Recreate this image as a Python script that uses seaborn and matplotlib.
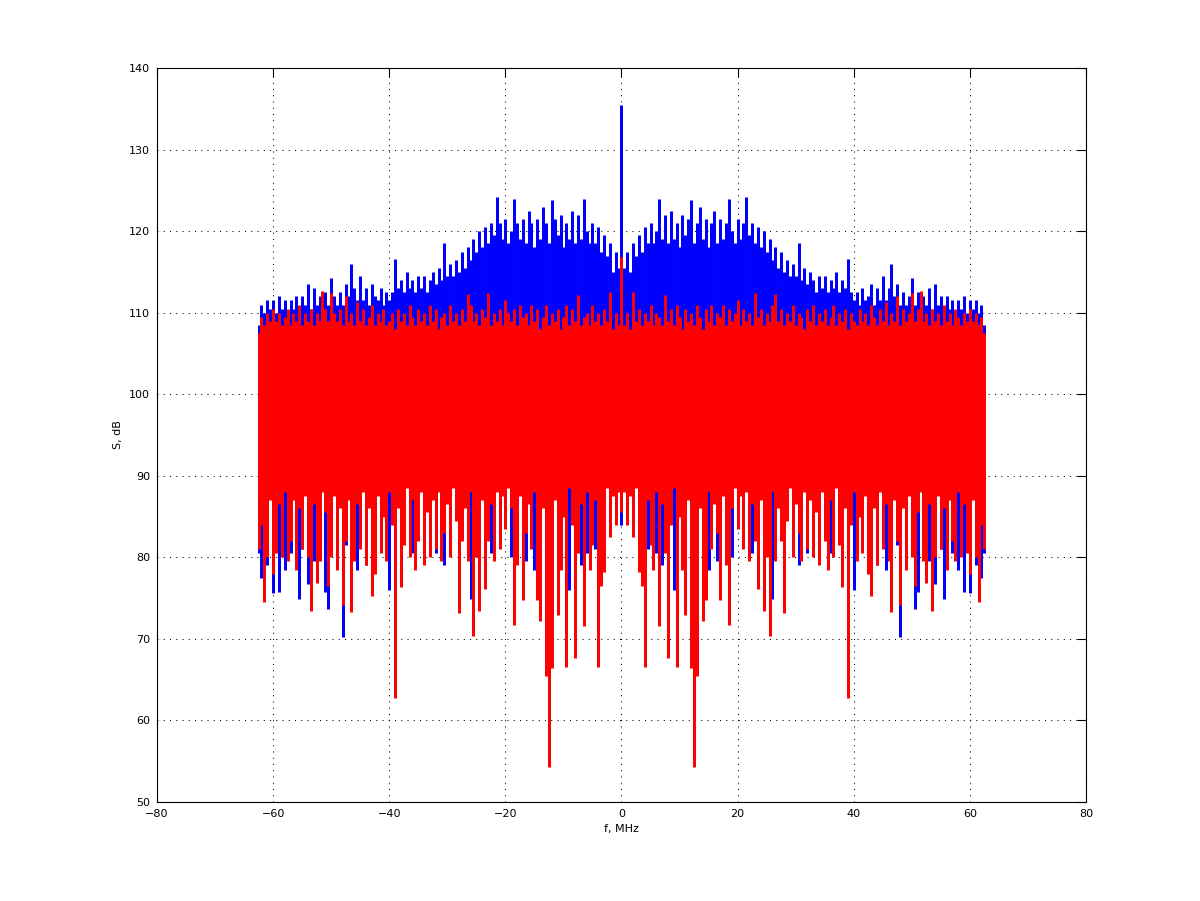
import numpy as np
import matplotlib
matplotlib.use("Agg")
import matplotlib.pyplot as plt
import seaborn as sns

# Spectrum is symmetric about 0 MHz: values read for f = 0, 0.5, ..., 62.5 MHz
bin_step = 0.5

blue_hi = [135.5, 115.5, 117.5, 115.0, 118.5, 117.0, 119.5, 117.5, 120.5, 118.5,
           121.0, 118.5, 120.0, 124.0, 119.0, 122.0, 118.5, 122.5, 119.0, 121.0,
           118.0, 122.0, 119.5, 121.5, 123.8, 118.5, 121.0, 123.0, 119.0, 121.5,
           118.0, 121.0, 122.5, 118.5, 121.5, 119.0, 121.0, 124.0, 120.0, 118.5,
           121.5, 119.0, 121.0, 124.2, 119.5, 121.0, 118.5, 120.5, 118.0, 120.0,
           117.5, 119.0, 116.5, 118.0, 115.5, 117.5, 115.0, 116.5, 114.5, 116.0,
           114.5, 118.5, 114.0, 115.5, 113.5, 115.0, 114.0, 112.5, 114.5, 113.0,
           114.5, 112.5, 114.0, 113.0, 115.0, 112.5, 114.0, 113.0, 116.6, 112.5,
           111.5, 112.5, 111.0, 113.0, 111.5, 112.0, 113.5, 111.0, 113.0, 111.5,
           114.5, 111.5, 113.0, 116.0, 112.0, 113.5, 111.0, 112.5, 111.0, 112.0,
           114.2, 111.0, 112.5, 110.5, 112.0, 111.0, 113.0, 110.5, 113.5, 111.0,
           112.0, 110.5, 112.0, 110.5, 111.5, 110.0, 111.5, 110.5, 112.0, 110.0,
           111.5, 110.5, 111.5, 110.0, 111.0, 108.5]

blue_lo = [84.0, 90.0, 90.0, 90.0, 90.0, 90.0, 90.0, 90.0, 90.0, 81.0,
           90.0, 90.0, 80.5, 90.0, 79.0, 90.0, 90.0, 90.0, 76.0, 90.0,
           90.0, 90.0, 90.0, 90.0, 90.0, 90.0, 90.0, 90.0, 90.0, 90.0,
           78.4, 90.0, 90.0, 79.5, 90.0, 90.0, 90.0, 90.0, 80.0, 90.0,
           90.0, 90.0, 90.0, 90.0, 90.0, 80.5, 90.0, 90.0, 90.0, 90.0,
           90.0, 90.0, 74.9, 90.0, 90.0, 90.0, 90.0, 90.0, 90.0, 90.0,
           90.0, 79.0, 90.0, 90.0, 80.5, 90.0, 90.0, 90.0, 90.0, 90.0,
           90.0, 90.0, 80.5, 90.0, 90.0, 90.0, 90.0, 90.0, 90.0, 90.0,
           76.0, 90.0, 90.0, 81.0, 90.0, 90.0, 90.0, 90.0, 79.0, 90.0,
           90.0, 78.4, 90.0, 90.0, 90.0, 81.5, 70.2, 90.0, 78.8, 90.0,
           90.0, 73.7, 75.8, 90.0, 82.0, 90.0, 79.5, 90.0, 76.7, 90.0,
           81.0, 74.9, 90.0, 90.0, 80.5, 90.0, 78.5, 90.0, 75.8, 82.5,
           75.6, 90.0, 79.0, 82.0, 77.5, 80.5]

red_hi = [116.8, 108.5, 110.0, 108.0, 112.5, 109.0, 110.5, 108.5, 110.0, 109.0,
          111.0, 108.5, 110.0, 109.5, 108.5, 112.2, 109.0, 110.5, 108.5, 111.0,
          109.5, 108.0, 110.5, 109.0, 110.0, 108.5, 111.0, 109.5, 108.0, 110.5,
          109.0, 111.0, 108.5, 110.0, 109.5, 111.0, 108.5, 110.5, 109.0, 110.0,
          111.5, 108.5, 110.5, 109.0, 110.0, 108.5, 112.4, 109.5, 110.5, 108.5,
          110.0, 109.0, 111.0, 112.3, 109.0, 110.5, 108.5, 110.0, 109.0, 111.0,
          108.5, 110.0, 109.5, 108.0, 110.5, 109.0, 111.0, 108.5, 110.0, 109.0,
          110.5, 108.5, 109.5, 111.0, 108.5, 110.0, 109.0, 110.5, 108.0, 110.0,
          109.0, 108.5, 110.5, 109.0, 110.0, 108.5, 111.0, 109.5, 108.5, 110.5,
          109.0, 111.3, 108.5, 110.0, 109.0, 112.0, 108.5, 110.5, 109.0, 110.0,
          112.4, 109.0, 110.5, 112.6, 109.0, 110.0, 108.5, 110.5, 109.0, 110.0,
          108.5, 111.0, 109.0, 110.0, 108.5, 110.5, 109.5, 108.5, 110.0, 109.0,
          110.5, 109.0, 110.0, 108.5, 109.5, 107.5]

red_lo = [85.5, 88.0, 84.0, 87.5, 82.5, 88.5, 78.2, 76.5, 66.5, 87.0,
          81.5, 78.4, 88.0, 71.6, 86.5, 80.5, 67.6, 84.0, 88.5, 66.6,
          85.0, 78.5, 72.9, 87.0, 66.4, 54.3, 65.5, 86.0, 72.2, 74.8,
          88.0, 81.0, 86.5, 83.0, 74.8, 87.5, 79.0, 71.7, 86.0, 88.5,
          83.5, 87.5, 81.0, 88.0, 79.5, 86.5, 82.0, 76.1, 87.0, 73.4,
          80.0, 70.3, 88.0, 79.5, 86.0, 82.0, 73.2, 84.5, 88.5, 80.0,
          86.5, 83.0, 79.5, 88.0, 81.0, 87.0, 80.0, 85.5, 79.0, 88.0,
          82.0, 78.5, 87.0, 80.0, 88.5, 81.5, 76.4, 86.0, 62.8, 84.0,
          88.0, 79.5, 85.0, 80.5, 87.5, 78.0, 75.3, 86.0, 79.0, 88.0,
          81.0, 86.5, 79.5, 73.3, 87.0, 82.0, 74.2, 86.0, 78.5, 87.5,
          80.0, 76.5, 85.5, 88.0, 79.5, 76.8, 86.5, 73.4, 80.0, 87.5,
          81.0, 86.0, 78.5, 87.0, 82.0, 79.5, 88.0, 80.0, 86.5, 80.5,
          78.0, 87.0, 80.0, 74.5, 84.0, 81.0]

x_ticks = [-80, -60, -40, -20, 0, 20, 40, 60, 80]
y_ticks = [50, 60, 70, 80, 90, 100, 110, 120, 130, 140]


def mirror(values):
    v = np.asarray(values, dtype=float)
    return np.concatenate([v[:0:-1], v])


f_pos = np.arange(len(blue_hi)) * bin_step
freq = np.concatenate([-f_pos[:0:-1], f_pos])

sns.set_theme(style="white")
plt.rcParams['font.family'] = ['DejaVu Sans']
plt.rcParams['font.size'] = 8

fig = plt.figure(figsize=(12, 9.01), dpi=100)
ax = fig.add_axes([0.1308, 0.1099, 0.7742, 0.8146])

# one bar per frequency bin, spanning the trace's min..max in that bin
bar_lw = 2.15
ax.vlines(freq, mirror(blue_lo), mirror(blue_hi), colors='#0000ff',
          linewidth=bar_lw, zorder=3)
ax.vlines(freq, mirror(red_lo), mirror(red_hi), colors='#ff0000',
          linewidth=bar_lw, zorder=4)

ax.set_xlim(-80, 80)
ax.set_ylim(50, 140)
ax.set_xticks(x_ticks)
ax.set_yticks(y_ticks)
ax.set_xlabel('f, MHz', fontsize=8, color='black')
ax.set_ylabel('S, dB', fontsize=8, color='black')

ax.grid(True, color='black', linestyle=(0, (1, 5)), linewidth=0.75)
ax.set_axisbelow(True)
ax.tick_params(direction='in', length=6.5, width=0.8, colors='black',
               top=True, right=True, labelsize=8, pad=5)
for spine in ax.spines.values():
    spine.set_color('black')
    spine.set_linewidth(0.8)

fig.savefig('out.png', dpi=100, facecolor='white')
